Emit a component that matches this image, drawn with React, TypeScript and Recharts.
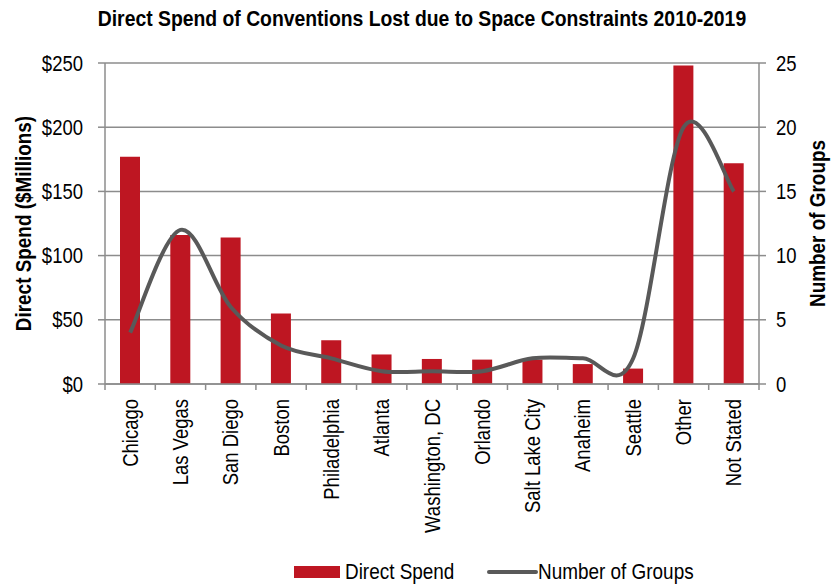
import React from "react";
import { ComposedChart, Bar, Line, XAxis, YAxis, CartesianGrid, Legend } from "recharts";

// categories + both series
const cities = [
  "Chicago",
  "Las Vegas",
  "San Diego",
  "Boston",
  "Philadelphia",
  "Atlanta",
  "Washington, DC",
  "Orlando",
  "Salt Lake City",
  "Anaheim",
  "Seattle",
  "Other",
  "Not Stated",
];
const directSpend = [177, 116, 114, 55, 34, 23, 19.5, 19, 19, 15.5, 12, 248, 172];
const numberOfGroups = [4, 12, 6, 3, 2, 1, 1, 1, 2, 2, 2, 20, 15];

const spendTicks = [0, 50, 100, 150, 200, 250];
const groupTicks = [0, 5, 10, 15, 20, 25];

const W = 837;
const H = 587;
const LEFT_W = 105;
const RIGHT_W = 78;
const BAND = (W - LEFT_W - RIGHT_W) / cities.length;

// no narrow font installed -> squeeze Liberation Sans horizontally
const FONT = "'Liberation Sans', Arial, sans-serif";
const SQUEEZE = 0.86;
const TICK_SIZE = 21.5;
const RED = "#BE1622";
const GREY_LINE = "#595959";
const AXIS = "#8c8c8c";

const data = cities.map((city, i) => ({
  city,
  spend: directSpend[i],
  groups: numberOfGroups[i],
}));

// Excel-style smoothed line (Catmull-Rom through every point)
const excelSmooth = (context: any) => {
  let pts: number[][] = [];
  return {
    areaStart() {},
    areaEnd() {},
    lineStart() {
      pts = [];
    },
    point(x: number, y: number) {
      pts.push([+x, +y]);
    },
    lineEnd() {
      if (!pts.length) return;
      context.moveTo(pts[0][0], pts[0][1]);
      for (let i = 0; i < pts.length - 1; i++) {
        const p0 = pts[i - 1] || pts[i];
        const p1 = pts[i];
        const p2 = pts[i + 1];
        const p3 = pts[i + 2] || p2;
        context.bezierCurveTo(
          p1[0] + (p2[0] - p0[0]) / 6,
          p1[1] + (p2[1] - p0[1]) / 6,
          p2[0] - (p3[0] - p1[0]) / 6,
          p2[1] - (p3[1] - p1[1]) / 6,
          p2[0],
          p2[1]
        );
      }
    },
  };
};

const CityTick = (props: any) => {
  const { x, y, payload, index } = props;
  return (
    <g>
      <line x1={x - BAND / 2} x2={x - BAND / 2} y1={y} y2={y + 6} stroke={AXIS} strokeWidth={1.5} />
      {index === cities.length - 1 && (
        <line x1={x + BAND / 2} x2={x + BAND / 2} y1={y} y2={y + 6} stroke={AXIS} strokeWidth={1.5} />
      )}
      <text
        transform={`translate(${x},${y + 15}) rotate(-90) scale(${SQUEEZE},1)`}
        textAnchor="end"
        dominantBaseline="central"
        fontFamily={FONT}
        fontSize={TICK_SIZE}
        fill="#000"
      >
        {payload.value}
      </text>
    </g>
  );
};

const ValueTick = (props: any) => {
  const { x, y, payload, textAnchor, prefix } = props;
  return (
    <text
      transform={`translate(${x},${y}) scale(${SQUEEZE},1)`}
      textAnchor={textAnchor}
      dominantBaseline="central"
      fontFamily={FONT}
      fontSize={TICK_SIZE}
      fill="#000"
    >
      {(prefix || "") + payload.value}
    </text>
  );
};

const AxisTitle = (props: any) => {
  const { viewBox, value, dx } = props;
  const cx = viewBox.x + dx;
  const cy = viewBox.y + viewBox.height / 2;
  return (
    <text
      transform={`translate(${cx},${cy}) rotate(-90) scale(${SQUEEZE},1)`}
      textAnchor="middle"
      dominantBaseline="central"
      fontFamily={FONT}
      fontSize={22}
      fontWeight="bold"
      fill="#000"
    >
      {value}
    </text>
  );
};

const squeezed: React.CSSProperties = {
  position: "absolute",
  whiteSpace: "nowrap",
  transform: `scaleX(${SQUEEZE})`,
  transformOrigin: "left center",
  fontFamily: FONT,
  fontSize: 22,
  lineHeight: "26px",
  color: "#000",
};

const ChartLegend = () => (
  <div style={{ position: "relative", width: W, height: 40 }}>
    <span style={{ position: "absolute", left: 294, top: 19, width: 46, height: 12, background: RED }} />
    <span style={{ ...squeezed, left: 345, top: 12 }}>Direct Spend</span>
    <span style={{ position: "absolute", left: 487, top: 23, width: 51, height: 4, background: GREY_LINE, borderRadius: 2 }} />
    <span style={{ ...squeezed, left: 538, top: 12 }}>Number of Groups</span>
  </div>
);

export default function App() {
  return (
    <div style={{ position: "relative", width: W, height: H, background: "#fff" }}>
      <style>{`body { margin: 0; }`}</style>
      <div
        style={{
          position: "absolute",
          top: 6,
          left: 0,
          width: W,
          textAlign: "center",
          zIndex: 1,
        }}
      >
        <span
          style={{
            display: "inline-block",
            whiteSpace: "nowrap",
            fontFamily: FONT,
            fontWeight: "bold",
            fontSize: 22.5,
            transform: `scaleX(${SQUEEZE})`,
            transformOrigin: "center",
            marginLeft: 6,
          }}
        >
          Direct Spend of Conventions Lost due to Space Constraints 2010-2019
        </span>
      </div>
      <ComposedChart
        width={W}
        height={H}
        data={data}
        margin={{ top: 63, right: 0, left: 0, bottom: 0 }}
        barCategoryGap={0}
      >
        <CartesianGrid vertical={false} stroke={AXIS} strokeWidth={1.5} yAxisId="left" />
        <XAxis
          dataKey="city"
          interval={0}
          height={163}
          tickLine={false}
          tickSize={0}
          tickMargin={0}
          stroke={AXIS}
          strokeWidth={1.5}
          tick={<CityTick />}
        />
        <YAxis
          yAxisId="left"
          width={LEFT_W}
          domain={[0, 250]}
          ticks={spendTicks}
          stroke={AXIS}
          strokeWidth={1.5}
          tickSize={7}
          tickMargin={15}
          tick={<ValueTick prefix="$" />}
          label={<AxisTitle value="Direct Spend ($Millions)" dx={23} />}
        />
        <YAxis
          yAxisId="right"
          orientation="right"
          width={RIGHT_W}
          domain={[0, 25]}
          ticks={groupTicks}
          stroke={AXIS}
          strokeWidth={1.5}
          tickSize={7}
          tickMargin={10}
          tick={<ValueTick />}
          label={<AxisTitle value="Number of Groups" dx={58} />}
        />
        <Legend verticalAlign="bottom" height={40} content={<ChartLegend />} />
        <Bar yAxisId="left" dataKey="spend" name="Direct Spend" fill={RED} barSize={20} isAnimationActive={false} />
        <Line
          yAxisId="right"
          dataKey="groups"
          name="Number of Groups"
          type={excelSmooth as any}
          stroke={GREY_LINE}
          strokeWidth={4}
          dot={false}
          activeDot={false}
          isAnimationActive={false}
        />
      </ComposedChart>
    </div>
  );
}
